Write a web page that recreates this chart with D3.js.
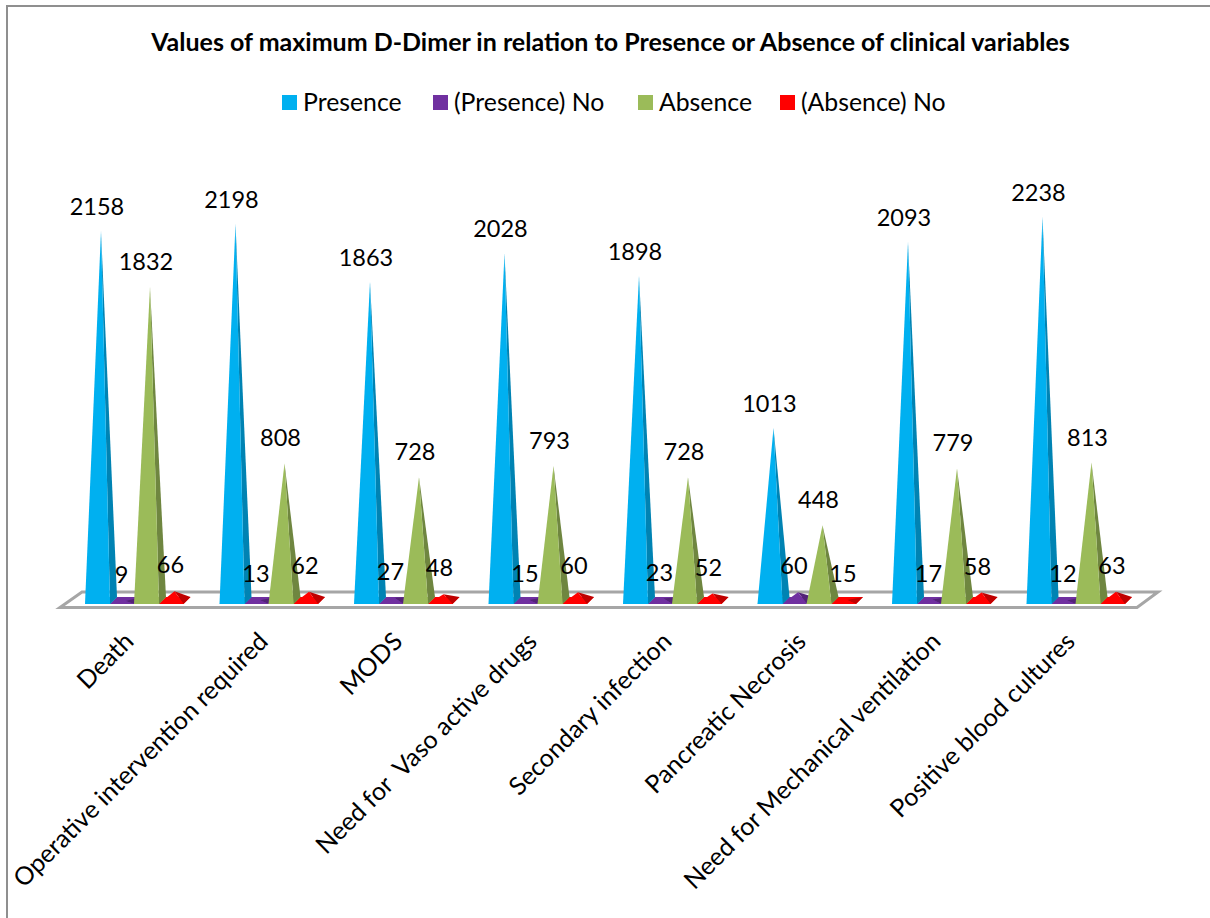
<!DOCTYPE html>
<html>
<head>
<meta charset="utf-8">
<script src="https://cdn.jsdelivr.net/npm/d3@7/dist/d3.min.js"></script>
<style>
html,body{margin:0;padding:0;background:#fff}
svg{display:block}
text{font-family:Lato,"Open Sans",sans-serif;fill:#000;white-space:pre}
</style>
</head>
<body>
<svg id="chart" width="1210" height="918"></svg>
<script>
const categories = ["Death","Operative intervention required","MODS","Need for  Vaso active drugs","Secondary infection","Pancreatic Necrosis","Need for Mechanical ventilation","Positive blood cultures"];
const presence = [2158,2198,1863,2028,1898,1013,2093,2238];
const presenceNo = [9,13,27,15,23,60,17,12];
const absence = [1832,808,728,793,728,448,779,813];
const absenceNo = [66,62,48,60,52,15,58,63];

const seriesNames = ["Presence","(Presence) No","Absence","(Absence) No"];
const seriesValues = [presence,presenceNo,absence,absenceNo];
const frontColors = ["#00b0f0","#7030a0","#9bbb59","#ff0000"];
const sideColors = ["#0083b3","#532378","#6f8640","#c00000"];

const titleText = "Values of maximum D-Dimer in relation to Presence or Absence of clinical variables";

const svg = d3.select("#chart");

// Chart frame: only the top and left edges fall inside the page
svg.append("path").attr("d","M7,918V6H1210")
  .attr("fill","none").attr("stroke","#8f8f8f").attr("stroke-width",2);

svg.append("text").attr("x",610.5).attr("y",51).attr("text-anchor","middle")
  .attr("font-size",25).attr("font-weight",700).text(titleText);

// Legend
const legendX = [282,433,638,780];
seriesNames.forEach((name,i)=>{
  svg.append("rect").attr("x",legendX[i]).attr("y",95).attr("width",15).attr("height",15).attr("fill",frontColors[i]);
  svg.append("text").attr("x",legendX[i]+21).attr("y",111).attr("font-size",24.8).text(name);
});

// Scales
const groupX = d3.scaleBand().domain(categories).range([65,1141]).padding(0);
const seriesX = d3.scaleBand().domain(d3.range(4)).range([20,118]);
const y = d3.scaleLinear().domain([0,2500]).range([602.5,172]);

const baseY = 604, baseW = 25, depth = 7, apexDx = 16;

// Floor of the 3D plot
const floorPts = [[60,607.5],[82,592],[1158,592],[1137,607.5]];
svg.append("path").attr("d",d3.line()(floorPts)+"Z")
  .attr("fill","#fff").attr("stroke","#a6a6a6").attr("stroke-width",3).attr("stroke-linejoin","miter");

// Pyramids, small series first so the tall faces overlap them.
// The base is painted too, since it shows under the very short pyramids.
const plot = svg.append("g");
[1,3,0,2].forEach(s=>{
  categories.forEach((c,i)=>{
    const v = seriesValues[s][i];
    const left = groupX(c) + seriesX(s);
    const apex = [left+apexDx, y(v)];
    const fl = [left,baseY], fr = [left+baseW,baseY];
    const br = [left+baseW+depth,baseY-depth], bl = [left+depth,baseY-depth];
    plot.append("path").attr("d",d3.line()([fl,fr,br,bl])+"Z").attr("fill",frontColors[s]);
    plot.append("path").attr("d",d3.line()([fr,br,apex])+"Z").attr("fill",sideColors[s]);
    plot.append("path").attr("d",d3.line()([fl,fr,apex])+"Z").attr("fill",frontColors[s]);
  });
});

// Data labels
const labelDy = [-16,-18,-17,-18];
seriesValues.forEach((vals,s)=>{
  vals.forEach((v,i)=>{
    const left = groupX(categories[i]) + seriesX(s);
    svg.append("text").attr("x",left+apexDx-4).attr("y",y(v)+labelDy[s])
      .attr("text-anchor","middle").attr("font-size",23.5).text(v);
  });
});

// Rotated category labels, anchored at their end under each group
categories.forEach(c=>{
  const cx = groupX(c)+70;
  svg.append("text").attr("transform",`translate(${cx},643) rotate(-45)`)
    .attr("text-anchor","end").attr("font-size",25).text(c);
});
</script>
</body>
</html>
